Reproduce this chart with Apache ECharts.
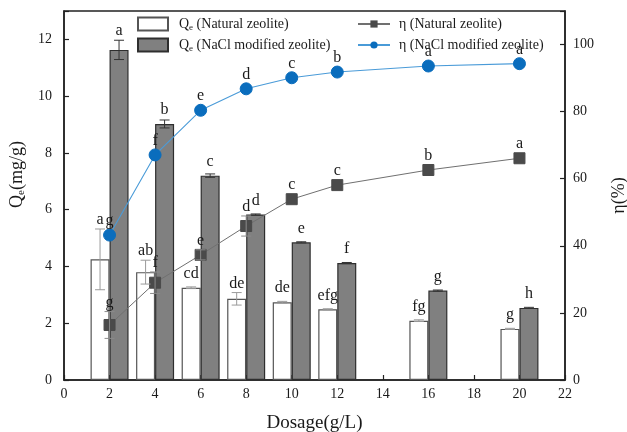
<!DOCTYPE html>
<html>
<head>
<meta charset="utf-8">
<script src="https://cdn.jsdelivr.net/npm/echarts@6/dist/echarts.min.js"></script>
<style>
  html, body { margin: 0; padding: 0; background: #ffffff; }
  #chart { width: 627px; height: 432px; }
</style>
</head>
<body>
<div id="chart"></div>
<script>
// Zeolite dosage experiment: adsorption capacity (bars) and removal rate (lines)
const dosage = [2, 4, 6, 8, 10, 12, 16, 20];

const qeNatural = [4.25, 3.80, 3.25, 2.86, 2.74, 2.49, 2.09, 1.80];
const qeNaturalErr = [1.07, 0.42, 0.03, 0.22, 0.03, 0.02, 0.03, 0.02];
const qeNaturalLetters = ['a', 'ab', 'cd', 'de', 'de', 'efg', 'fg', 'g'];

const qeNaCl = [11.63, 9.02, 7.20, 5.83, 4.85, 4.12, 3.15, 2.54];
const qeNaClErr = [0.34, 0.14, 0.06, 0.02, 0.02, 0.02, 0.02, 0.02];
const qeNaClLetters = ['a', 'b', 'c', 'd', 'e', 'f', 'g', 'h'];

const etaNatural = [16.4, 29.0, 37.3, 45.9, 53.9, 58.1, 62.6, 66.1];
const etaNaturalErr = [4.0, 3.2, 1.5, 3.0, 0, 0, 0, 0];
const etaNaturalLetters = ['g', 'f', 'e', 'd', 'c', 'c', 'b', 'a'];

const etaNaCl = [43.2, 67.1, 80.4, 86.8, 90.1, 91.8, 93.6, 94.3];
const etaNaClErr = [0, 0, 0, 0, 0, 0, 0, 0];
const etaNaClLetters = ['g', 'f', 'e', 'd', 'c', 'b', 'a', 'a'];

const xTicks = [0, 2, 4, 6, 8, 10, 12, 14, 16, 18, 20, 22];
const qeTicks = [0, 2, 4, 6, 8, 10, 12];
const etaTicks = [0, 20, 40, 60, 80, 100];

const names = {
  qeNat: 'Qe (Natural zeolite)',
  qeNaCl: 'Qe (NaCl modified zeolite)',
  etaNat: 'η (Natural zeolite)',
  etaNaCl: 'η (NaCl modified zeolite)'
};

const FONT = 'Liberation Serif, Times New Roman, serif';
const BAR_W = 19;
const INK = '#1a1a1a';

const subRich = {
  b: { fontFamily: FONT, fontSize: 14, color: INK, lineHeight: 16 },
  e: { fontFamily: FONT, fontSize: 9, color: INK, lineHeight: 16, verticalAlign: 'bottom', padding: [6, 0, 0, 0] }
};

// Error bars and significance letters drawn through the axes
function annotations(values, errs, letters, yAxisIndex, dx, errColor) {
  return {
    type: 'custom',
    yAxisIndex: yAxisIndex,
    silent: true,
    z: 12,
    data: dosage.map((d, i) => [d, values[i], errs[i]]),
    encode: { x: 0, y: 1 },
    renderItem: function (params, api) {
      const x = api.value(0), v = api.value(1), e = api.value(2);
      const c = api.coord([x, v]);
      const top = api.coord([x, v + e]);
      const bot = api.coord([x, v - e]);
      const px = c[0] + dx;
      const children = [];
      if (e > 0) {
        const ls = { stroke: errColor, lineWidth: 1 };
        children.push({ type: 'line', shape: { x1: px, y1: top[1], x2: px, y2: bot[1] }, style: ls });
        children.push({ type: 'line', shape: { x1: px - 5, y1: top[1], x2: px + 5, y2: top[1] }, style: ls });
        children.push({ type: 'line', shape: { x1: px - 5, y1: bot[1], x2: px + 5, y2: bot[1] }, style: ls });
      }
      const ty = Math.min(top[1] - 1, c[1] - 6);
      children.push({
        type: 'text',
        style: {
          text: letters[params.dataIndex],
          x: px, y: ty,
          align: 'center', verticalAlign: 'bottom',
          font: '16px ' + FONT, fill: INK
        }
      });
      return { type: 'group', children: children };
    }
  };
}

const chart = echarts.init(document.getElementById('chart'), null, { renderer: 'canvas' });

chart.setOption({
  animation: false,
  backgroundColor: '#ffffff',
  grid: {
    left: 64, right: 62, top: 11, bottom: 52,
    outerBoundsMode: 'none', containLabel: false,
    show: true, borderColor: '#222', borderWidth: 1.5, backgroundColor: 'transparent'
  },
  legend: [
    {
      data: [{ name: names.qeNat, icon: 'rect' }, { name: names.qeNaCl, icon: 'rect' }],
      orient: 'vertical', left: 132, top: 11,
      itemWidth: 30, itemHeight: 13, itemGap: 5,
      textStyle: {
        fontFamily: FONT, fontSize: 14, color: INK, lineHeight: 16,
        padding: [0, 0, 0, 6], rich: subRich
      },
      formatter: function (n) { return '{b|Q}{e|e}{b|' + n.slice(2) + '}'; }
    },
    {
      data: [names.etaNat, names.etaNaCl],
      orient: 'vertical', left: 352, top: 11,
      itemWidth: 32, itemHeight: 9, itemGap: 5,
      textStyle: { fontFamily: FONT, fontSize: 14, color: INK, lineHeight: 16, padding: [0, 0, 0, 4] }
    }
  ],
  xAxis: {
    type: 'value',
    min: xTicks[0], max: xTicks[xTicks.length - 1], interval: xTicks[1] - xTicks[0],
    name: 'Dosage(g/L)', nameLocation: 'middle', nameGap: 34,
    nameTextStyle: { fontFamily: FONT, fontSize: 19, color: INK },
    axisLine: { lineStyle: { color: '#222', width: 1.5 } },
    axisTick: { inside: true, length: 5, lineStyle: { color: '#222', width: 1.2 } },
    axisLabel: { fontFamily: FONT, fontSize: 14, color: INK, margin: 7 },
    splitLine: { show: false }
  },
  yAxis: [
    {
      type: 'value',
      min: qeTicks[0], max: 13, interval: qeTicks[1] - qeTicks[0],
      name: '{b|Q}{e|e}{b|(mg/g)}', nameLocation: 'middle', nameGap: 21, nameRotate: 90,
      nameTextStyle: {
        fontFamily: FONT, fontSize: 18, color: INK, padding: [0, 0, 0, 42],
        rich: {
          b: { fontFamily: FONT, fontSize: 18, color: INK, lineHeight: 20 },
          e: { fontFamily: FONT, fontSize: 11, color: INK, lineHeight: 20, verticalAlign: 'bottom', padding: [8, 0, 0, 0] }
        }
      },
      axisLine: { show: true, lineStyle: { color: '#222', width: 1.5 } },
      axisTick: { show: true, inside: true, length: 5, lineStyle: { color: '#222', width: 1.2 } },
      axisLabel: {
        fontFamily: FONT, fontSize: 14, color: INK, margin: 12,
        formatter: function (v) { return qeTicks.indexOf(v) >= 0 ? String(v) : ''; }
      },
      splitLine: { show: false }
    },
    {
      type: 'value',
      min: etaTicks[0], max: 110, interval: etaTicks[1] - etaTicks[0],
      position: 'right',
      name: 'η(%)', nameLocation: 'middle', nameGap: 45, nameRotate: 90,
      nameTextStyle: { fontFamily: FONT, fontSize: 18, color: INK },
      axisLine: { show: true, lineStyle: { color: '#222', width: 1.5 } },
      axisTick: { show: true, inside: true, length: 5, lineStyle: { color: '#222', width: 1.2 } },
      axisLabel: {
        fontFamily: FONT, fontSize: 14, color: INK, margin: 8,
        formatter: function (v) { return etaTicks.indexOf(v) >= 0 ? String(v) : ''; }
      },
      splitLine: { show: false }
    }
  ],
  series: [
    {
      name: names.qeNat, type: 'bar', yAxisIndex: 0,
      barWidth: BAR_W, barGap: '0%', z: 2,
      itemStyle: { color: '#ffffff', borderColor: '#555555', borderWidth: 1.2 },
      data: dosage.map((d, i) => [d, qeNatural[i]])
    },
    {
      name: names.qeNaCl, type: 'bar', yAxisIndex: 0,
      barWidth: BAR_W, barGap: '0%', z: 2,
      itemStyle: { color: '#808080', borderColor: '#2e2e2e', borderWidth: 1.2 },
      data: dosage.map((d, i) => [d, qeNaCl[i]])
    },
    {
      name: names.etaNat, type: 'line', yAxisIndex: 1, z: 10,
      symbol: 'rect', symbolSize: 11,
      lineStyle: { color: '#707070', width: 1 },
      itemStyle: { color: '#4a4a4a', borderColor: '#4a4a4a' },
      data: dosage.map((d, i) => [d, etaNatural[i]])
    },
    {
      name: names.etaNaCl, type: 'line', yAxisIndex: 1, z: 11,
      symbol: 'circle', symbolSize: 12,
      lineStyle: { color: '#4a9bd8', width: 1.1 },
      itemStyle: { color: '#0a6dbd', borderColor: '#0a6dbd' },
      data: dosage.map((d, i) => [d, etaNaCl[i]])
    },
    annotations(qeNatural, qeNaturalErr, qeNaturalLetters, 0, -BAR_W / 2, '#9a9a9a'),
    annotations(qeNaCl, qeNaClErr, qeNaClLetters, 0, BAR_W / 2, '#333333'),
    annotations(etaNatural, etaNaturalErr, etaNaturalLetters, 1, 0, '#8a8a8a'),
    annotations(etaNaCl, etaNaClErr, etaNaClLetters, 1, 0, '#0a6dbd')
  ]
});
</script>
</body>
</html>
